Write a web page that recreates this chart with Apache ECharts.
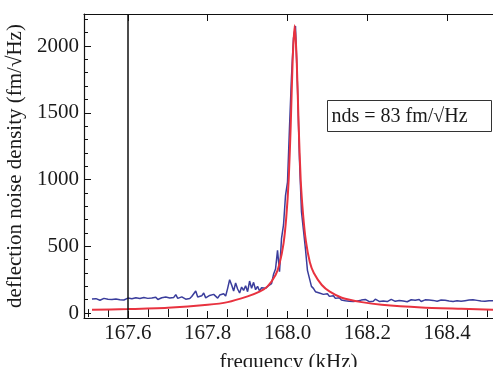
<!DOCTYPE html>
<html>
<head>
<meta charset="utf-8">
<script src="https://cdn.jsdelivr.net/npm/echarts@6/dist/echarts.min.js"></script>
<style>
  html, body { margin: 0; padding: 0; background: #fff; }
  #chart { width: 493px; height: 367px; }
</style>
</head>
<body>
<div id="chart"></div>
<script>
// measured spectrum, sampled every 0.005 kHz starting at 167.51 kHz
const blueStart = 167.51;
const blueStep = 0.005;
const blueValues = [
  105, 98, 108, 101, 96, 104, 110, 99, 103, 95,
  102, 97, 106, 93, 100, 108, 98, 104, 112, 100,
  107, 99, 114, 103, 109, 101, 116, 105, 110, 98,
  112, 106, 118, 102, 110, 115, 104, 120, 108, 113,
  103, 117, 138, 110, 106, 121, 112, 104, 118, 109,
  124, 113, 165, 120, 107, 129, 150, 114, 122, 132,
  118, 140, 126, 112, 135, 121, 145, 128, 185, 250,
  210, 165, 225, 180, 150, 195, 170, 205, 160, 240,
  185, 230, 175, 200, 165, 190, 178, 185, 200, 192,
  220, 290, 330, 470, 310, 560, 660, 880, 980, 1390,
  1770, 2060, 2150, 1700, 1150, 760, 620, 480, 320, 260,
  200, 185, 160, 172, 150, 158, 140, 130, 145, 125,
  118, 130, 110, 104, 115, 98, 106, 92, 100, 88,
  95, 86, 100, 90, 84, 97, 88, 102, 92, 85,
  96, 89, 104, 93, 87, 100, 91, 98, 86, 95,
  103, 92, 88, 99, 94, 106, 90, 97, 85, 93,
  100, 88, 96, 91, 102, 87, 94, 99, 90, 97,
  86, 95, 101, 89, 93, 98, 88, 96, 103, 91,
  94, 87, 99, 92, 96, 89, 101, 93, 88, 97,
  91, 99, 87, 95, 102, 90, 96, 88, 98, 93, 100, 92
];

// fitted curve
const redFreq = [
  167.51, 167.60, 167.70, 167.80, 167.85, 167.90, 167.93, 167.95, 167.97,
  167.98, 167.99, 167.997, 168.003, 168.008, 168.013, 168.018, 168.023,
  168.028, 168.033, 168.039, 168.046, 168.056, 168.066, 168.086, 168.106,
  168.136, 168.186, 168.236, 168.336, 168.436, 168.518
];
const redValues = [
  25, 30, 40, 62, 82, 125, 160, 200, 285,
  370, 520, 720, 1000, 1400, 1900, 2155, 1900,
  1400, 1000, 740, 540, 380, 300, 210, 160,
  115, 82, 62, 42, 32, 24
];

const markerFreq = 167.6;
const xMajorTicks = [167.6, 167.8, 168.0, 168.2, 168.4];
const xMinorTicks = [
  167.5, 167.55, 167.65, 167.7, 167.75, 167.85, 167.9, 167.95,
  168.05, 168.1, 168.15, 168.25, 168.3, 168.35, 168.45, 168.5
];
const yMajorTicks = [0, 500, 1000, 1500, 2000];
const yMinorTicks = [
  100, 200, 300, 400, 600, 700, 800, 900, 1100, 1200, 1300, 1400,
  1600, 1700, 1800, 1900, 2100, 2200
];
const boxText = "nds = 83 fm/\u221AHz";

const chart = echarts.init(document.getElementById("chart"));

const font = "Liberation Serif";
const ink = "#1a1a1a";
const xMin = 167.49, xMax = 168.515;
const yMin = -37, yMax = 2240;

const blueData = blueValues.map((v, i) => [+(blueStart + i * blueStep).toFixed(3), v]);
const redData = redFreq.map((f, i) => [f, redValues[i]]);

const xBase = {
  type: "value",
  min: xMin,
  max: xMax,
  splitLine: { show: false },
  axisLine: { show: true, onZero: false, lineStyle: { color: "#111", width: 1.2 } },
};
const yBase = {
  type: "value",
  min: yMin,
  max: yMax,
  splitLine: { show: false },
  axisLine: { show: true, onZero: false, lineStyle: { color: "#111", width: 1.2 } },
};

const option = {
  animation: false,
  backgroundColor: "#fff",
  grid: { left: 84, top: 14, right: 0, bottom: 49, containLabel: false, outerBoundsMode: "none" },
  xAxis: [
    {
      ...xBase,
      position: "bottom",
      axisTick: { inside: true, length: 7, customValues: xMajorTicks, lineStyle: { color: "#111" } },
      axisLabel: {
        customValues: xMajorTicks,
        formatter: (v) => v.toFixed(1),
        fontFamily: font,
        fontSize: 21,
        color: ink,
        margin: 5,
      },
      name: "frequency (kHz)",
      nameLocation: "middle",
      nameGap: 34,
      nameTextStyle: { fontFamily: font, fontSize: 21, color: ink },
    },
    {
      ...xBase,
      position: "bottom",
      axisLine: { show: false },
      axisTick: { inside: true, length: 4, customValues: xMinorTicks, lineStyle: { color: "#111" } },
      axisLabel: { show: false },
    },
    {
      ...xBase,
      position: "top",
      axisTick: { inside: true, length: 7, customValues: xMajorTicks, lineStyle: { color: "#111" } },
      axisLabel: { show: false },
    },
    {
      ...xBase,
      position: "top",
      axisLine: { show: false },
      axisTick: { inside: true, length: 4, customValues: xMinorTicks, lineStyle: { color: "#111" } },
      axisLabel: { show: false },
    },
  ],
  yAxis: [
    {
      ...yBase,
      position: "left",
      axisTick: { inside: true, length: 7, customValues: yMajorTicks, lineStyle: { color: "#111" } },
      axisLabel: {
        customValues: yMajorTicks,
        formatter: (v) => String(v),
        fontFamily: font,
        fontSize: 21,
        color: ink,
        margin: 5,
      },
      name: "deflection noise density (fm/\u221AHz)",
      nameLocation: "middle",
      nameGap: 56,
      nameTextStyle: { fontFamily: font, fontSize: 21, color: ink },
    },
    {
      ...yBase,
      position: "left",
      axisLine: { show: false },
      axisTick: { inside: true, length: 4, customValues: yMinorTicks, lineStyle: { color: "#111" } },
      axisLabel: { show: false },
    },
  ],
  series: [
    {
      name: "measured",
      type: "line",
      data: blueData,
      showSymbol: false,
      lineStyle: { color: "#3a3d9c", width: 1.5 },
      markLine: {
        silent: true,
        symbol: "none",
        label: { show: false },
        lineStyle: { color: "#111", width: 1.5, type: "solid" },
        data: [{ xAxis: markerFreq }],
      },
    },
    {
      name: "fit",
      type: "line",
      data: redData,
      smooth: 0.2,
      showSymbol: false,
      lineStyle: { color: "#e8323f", width: 2 },
    },
  ],
  graphic: [
    {
      type: "group",
      left: 327,
      top: 100,
      children: [
        {
          type: "rect",
          shape: { x: 0, y: 0, width: 164, height: 31 },
          style: { fill: "#fff", stroke: "#333", lineWidth: 1 },
        },
        {
          type: "text",
          x: 4,
          y: 16,
          style: {
            text: boxText,
            fontFamily: font,
            fontSize: 20,
            fill: ink,
            verticalAlign: "middle",
          },
        },
      ],
    },
  ],
};

chart.setOption(option);
</script>
</body>
</html>
